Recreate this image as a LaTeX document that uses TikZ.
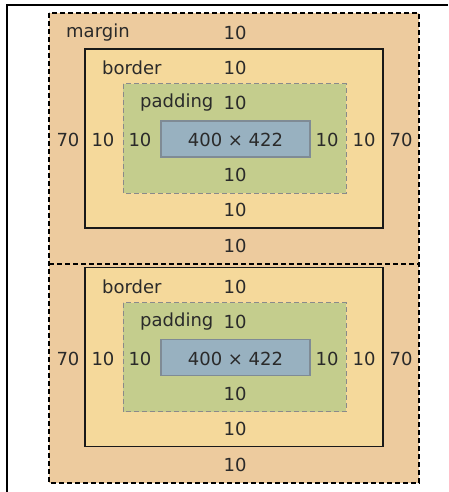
\documentclass[tikz,border=0pt]{standalone}
\usepackage{fontspec}
\setmainfont{DejaVu Sans}
\definecolor{marginc}{HTML}{EDCB9E}
\definecolor{borderc}{HTML}{F5D99B}
\definecolor{paddingc}{HTML}{C4CD8D}
\definecolor{contentc}{HTML}{98B1C0}
\definecolor{contentline}{HTML}{7F8B95}
\definecolor{padline}{HTML}{8A8A8A}
\definecolor{txt}{HTML}{2A2A2A}
\begin{document}
\begin{tikzpicture}[x=1pt,y=-1pt,
  lbl/.style={inner sep=0pt,text=txt,font=\fontsize{18}{20}\selectfont},
  marginbox/.style={fill=marginc,draw=black,line width=1.5pt,dash pattern=on 5pt off 3pt},
  borderbox/.style={fill=borderc,draw=black!90,line width=1.5pt},
  paddingbox/.style={fill=paddingc,draw=padline,line width=1pt,dash pattern=on 5pt off 3pt},
  contentbox/.style={fill=contentc,draw=contentline,line width=1.2pt}]
\useasboundingbox (0,0) rectangle (448,492);
\fill[white] (0,0) rectangle (448,492);
\draw[line width=1.5pt] (7,492) -- (7,5) -- (448,5);
\draw[marginbox] (49,13) rectangle (419,483);
\draw[marginbox,fill=none] (49,264) -- (419,264);
\node[lbl,anchor=west] (mlabel) at (66,33) {margin};
\node[lbl] (mtop) at (235,33) {10};
\foreach \dy/\s in {0/a,218.5/b}{
  \draw[borderbox] (85,49+\dy) rectangle (383,228+\dy);
  \draw[paddingbox] (123,84+\dy) rectangle (346,193+\dy);
  \draw[contentbox] (161,121+\dy) rectangle (310,157+\dy);
  \node[lbl,anchor=west] (blabel\s) at (102,68+\dy) {border};
  \node[lbl] (btop\s) at (235,68+\dy) {10};
  \node[lbl,anchor=west] (plabel\s) at (140,103+\dy) {padding};
  \node[lbl] (ptop\s) at (235,103+\dy) {10};
  \node[lbl] (mleft\s) at (68,140+\dy) {70};
  \node[lbl] (bleft\s) at (103,140+\dy) {10};
  \node[lbl] (pleft\s) at (140,140+\dy) {10};
  \node[lbl] (content\s) at (235.5,140+\dy) {400 × 422};
  \node[lbl] (pright\s) at (327,140+\dy) {10};
  \node[lbl] (bright\s) at (364,140+\dy) {10};
  \node[lbl] (mright\s) at (401,140+\dy) {70};
  \node[lbl] (pbot\s) at (235,175+\dy) {10};
  \node[lbl] (bbot\s) at (235,210+\dy) {10};
  \node[lbl] (mbot\s) at (235,246+\dy) {10};
}
\end{tikzpicture}
\end{document}
